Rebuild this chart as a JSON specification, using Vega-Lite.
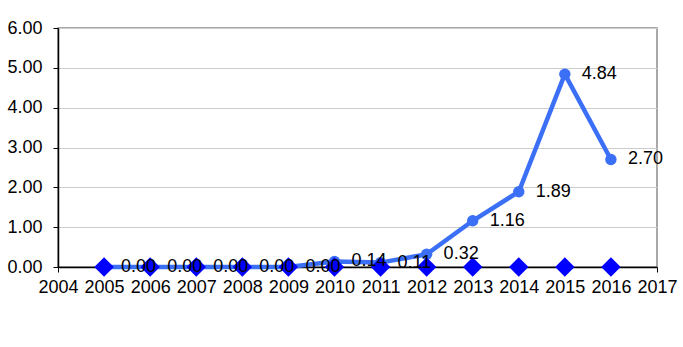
{
  "$schema": "https://vega.github.io/schema/vega-lite/v6.json",
  "width": 599,
  "height": 239,
  "autosize": {"type": "none"},
  "padding": {"left": 58, "top": 28, "right": 26, "bottom": 80},
  "background": "white",
  "config": {
    "font": "Liberation Sans",
    "view": {"stroke": "#8c8c8c", "strokeWidth": 1.5}
  },
  "data": {
    "values": [
      {"year": 2005, "value": 0.00, "series2": 0, "label": "0.00"},
      {"year": 2006, "value": 0.00, "series2": 0, "label": "0.00"},
      {"year": 2007, "value": 0.00, "series2": 0, "label": "0.00"},
      {"year": 2008, "value": 0.00, "series2": 0, "label": "0.00"},
      {"year": 2009, "value": 0.00, "series2": 0, "label": "0.00"},
      {"year": 2010, "value": 0.14, "series2": 0, "label": "0.14"},
      {"year": 2011, "value": 0.11, "series2": 0, "label": "0.11"},
      {"year": 2012, "value": 0.32, "series2": 0, "label": "0.32"},
      {"year": 2013, "value": 1.16, "series2": 0, "label": "1.16"},
      {"year": 2014, "value": 1.89, "series2": 0, "label": "1.89"},
      {"year": 2015, "value": 4.84, "series2": 0, "label": "4.84"},
      {"year": 2016, "value": 2.70, "series2": 0, "label": "2.70"}
    ]
  },
  "encoding": {
    "x": {
      "field": "year", "type": "quantitative",
      "scale": {"domain": [2004, 2017], "nice": false, "zero": false},
      "axis": {
        "title": null, "values": [2004,2005,2006,2007,2008,2009,2010,2011,2012,2013,2014,2015,2016,2017],
        "format": "d", "grid": false,
        "domainColor": "black", "domainWidth": 1.5,
        "tickColor": "black", "tickSize": 5,
        "labelColor": "black", "labelFontSize": 18, "labelPadding": 6,
        "labelFont": "Liberation Sans", "labelFlush": false, "labelOverlap": false
      }
    },
    "y": {
      "field": "value", "type": "quantitative",
      "scale": {"domain": [0, 6], "nice": false},
      "axis": {
        "title": null, "tickCount": 6, "tickMinStep": 1, "format": ".2f",
        "grid": true, "gridColor": "#cccccc", "gridWidth": 1.2,
        "domainColor": "black", "domainWidth": 1.5,
        "tickColor": "black", "tickSize": 5,
        "labelColor": "black", "labelFontSize": 18, "labelPadding": 11,
        "labelFont": "Liberation Sans", "labelOverlap": false, "labelFlush": false
      }
    }
  },
  "layer": [
    {
      "mark": {"type": "line", "color": "#3b6ff5", "strokeWidth": 4.5}
    },
    {
      "mark": {"type": "point", "shape": "circle", "filled": true, "opacity": 1, "color": "#3b6ff5", "size": 130}
    },
    {
      "mark": {"type": "point", "shape": "diamond", "filled": true, "opacity": 1, "color": "#0000ff", "size": 380},
      "encoding": {"y": {"field": "series2", "type": "quantitative"}}
    },
    {
      "mark": {"type": "text", "align": "left", "baseline": "middle", "dx": 17, "fontSize": 18, "color": "black", "font": "Liberation Sans"},
      "encoding": {
        "text": {"field": "label"}
      }
    }
  ]
}
